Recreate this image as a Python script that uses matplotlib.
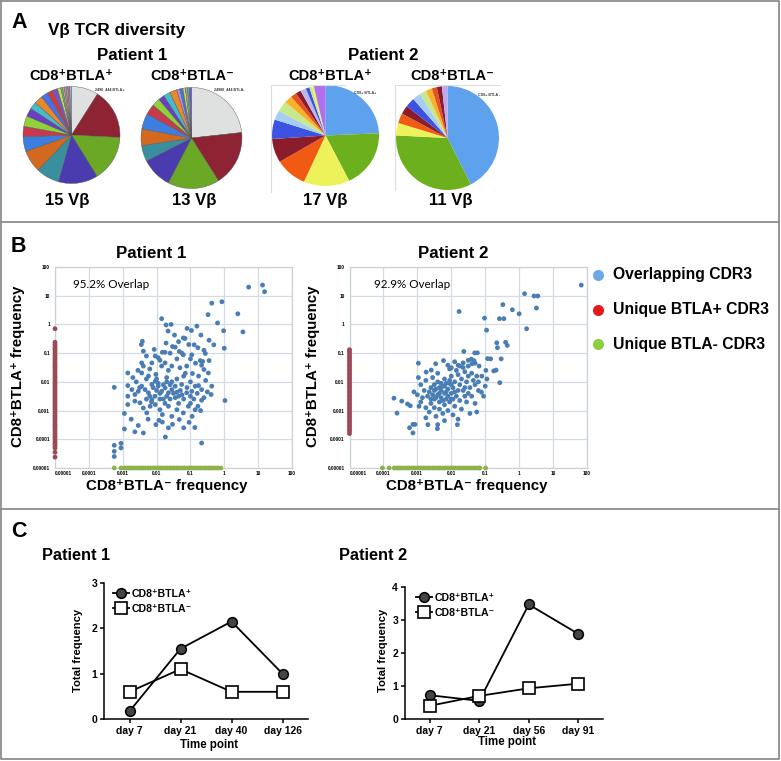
import numpy as np
import matplotlib
matplotlib.use('Agg')
import matplotlib.pyplot as plt
from matplotlib.lines import Line2D
from matplotlib.ticker import NullLocator

# ---------------- DATA ----------------
# Panel A: V-beta usage (percent of repertoire), clockwise from 12 o'clock
pie_p1_pos = [9.0, 16.8, 15.4, 13.2, 7.7, 7.4, 4.9, 3.5, 3.5, 2.8, 2.4, 2.8, 2.4, 1.8, 1.7, 1.1, 0.6, 0.6, 0.6, 0.6, 0.6, 0.6]
pie_p1_neg = [23.3, 17.8, 16.6, 9.9, 5.1, 5.3, 5.0, 3.4, 2.6, 1.9, 2.2, 2.3, 1.0, 1.0, 0.8, 0.7, 0.6, 0.65]
pie_p2_pos = [24.3, 18.4, 13.9, 9.7, 7.6, 6.2, 3.0, 3.4, 2.4, 1.8, 1.6, 1.7, 1.1, 0.8, 0.6, 3.5]
pie_p2_neg = [42.6, 33.3, 3.9, 3.1, 2.7, 3.0, 2.6, 2.1, 1.9, 1.6, 1.6, 1.75]
pie_counts = ['15 Vβ', '13 Vβ', '17 Vβ', '11 Vβ']
pie_tags = ['2498_444 BTLA+', '24988_444 BTLA-', 'CD8+ BTLA+', 'CD8+ BTLA -']

# Panel B: CDR3 clonotype frequencies, log10 (BTLA- freq, BTLA+ freq)
p1_overlap = [
    (1.13, 1.37), (1.19, 1.14), (0.72, 1.30), (-0.37, 0.74), (-0.07, 0.79), (0.40, 0.37), (-0.48, 0.34),
    (-0.20, 0.05), (-0.02, -0.22), (0.55, -0.26), (-1.85, 0.20), (-1.72, -0.02), (-1.57, 0.00), (-1.10, -0.14),
    (-0.97, -0.21), (-0.81, -0.06), (-0.69, -0.37), (-1.47, -0.37), (-1.66, -0.23), (-0.31, -0.71), (0.00, -0.83),
    (-1.21, -0.47), (-1.16, -0.49), (-2.42, -0.59), (-2.45, -0.70), (-1.72, -0.65), (-1.53, -0.77), (-1.45, -0.79),
    (-0.89, -0.71), (-0.78, -0.81), (-2.07, -0.87), (-1.83, -0.97), (-1.75, -0.97), (-2.39, -0.93), (-1.33, -0.94),
    (-1.21, -1.06), (-0.96, -1.06), (-0.56, -1.01), (-0.71, -1.26), (-0.64, -1.29), (-0.45, -1.26),
    (-2.04, -1.10), (-1.95, -1.16), (-2.14, -1.34), (-2.44, -1.34), (-2.39, -1.45),
    (-2.85, -1.69), (-2.44, -1.69), (-2.24, -1.80), (-2.02, -1.74), (-1.85, -1.45), (-1.75, -1.34), (-1.55, -1.45),
    (-1.31, -1.51), (-1.11, -1.45), (-0.94, -1.71), (-0.76, -1.80), (-0.47, -1.69), (-0.67, -1.42), (-0.60, -1.57),
    (-3.25, -2.19), (-2.85, -2.13), (-2.73, -2.27), (-2.64, -2.44), (-2.54, -2.33), (-2.44, -2.15), (-2.34, -2.27),
    (-2.24, -2.38), (-2.14, -2.09), (-2.04, -1.98), (-1.95, -2.15), (-1.85, -2.33), (-1.75, -2.21), (-1.65, -2.38),
    (-1.55, -2.27), (-1.45, -2.15), (-1.40, -2.36), (-1.35, -2.50), (-1.26, -2.09), (-1.11, -2.38), (-0.96, -2.33),
    (-0.86, -2.15), (-0.76, -2.13), (-0.67, -2.27), (-0.37, -2.15), (-0.39, -2.44), (0.02, -2.65), (-0.67, -2.64),
    (-2.85, -2.50), (-2.85, -2.79), (-2.64, -2.67), (-2.49, -2.73), (-2.39, -2.91), (-2.29, -3.08), (-2.19, -2.85),
    (-2.14, -2.62), (-2.04, -2.79), (-1.90, -2.97), (-1.83, -3.14), (-1.65, -2.85), (-1.55, -3.20), (-1.40, -2.97),
    (-1.21, -3.08), (-1.06, -2.85), (-0.86, -2.97), (-0.78, -2.85),
    (-2.95, -3.10), (-2.54, -3.52), (-2.39, -3.78), (-2.64, -3.74), (-2.95, -3.64), (-2.02, -3.49), (-1.93, -3.34),
    (-1.83, -3.40), (-1.53, -3.48), (-1.33, -3.31), (-1.04, -3.41), (-0.87, -3.59), (-1.74, -3.92), (-0.67, -4.13),
    (-3.25, -4.21), (-3.05, -4.14), (-3.25, -4.42), (-3.05, -4.30), (-3.25, -4.60),
    (-2.10, -2.20), (-2.00, -2.30), (-1.90, -2.40), (-1.80, -2.10), (-1.70, -2.50), (-1.60, -2.10), (-1.50, -2.40),
    (-2.20, -2.50), (-1.90, -2.60), (-1.70, -2.00), (-1.80, -2.60), (-1.95, -2.05), (-2.05, -2.50), (-1.60, -2.60),
    (-1.45, -2.55), (-1.30, -2.30), (-1.20, -2.60), (-1.00, -2.50), (-1.10, -2.20), (-0.90, -2.60), (-2.30, -2.60),
    (-2.50, -2.20), (-2.60, -2.00), (-2.30, -1.90), (-2.00, -1.90), (-1.70, -1.85), (-1.40, -1.90), (-1.20, -1.80),
    (-1.00, -2.00), (-0.80, -2.40), (-2.15, -2.70), (-1.75, -2.75), (-1.35, -2.75), (-1.55, -2.00), (-1.25, -2.45),
    (-0.55, -1.95), (-0.50, -2.35), (-0.60, -2.55), (-2.70, -1.85), (-2.55, -1.60), (-1.65, -1.60), (-1.40, -1.20),
    (-1.00, -1.20), (-0.85, -1.35), (-1.15, -1.70), (-1.25, -1.00), (-1.05, -0.70), (-0.60, -0.90), (-0.45, -0.55),
    (-1.35, -0.60), (-2.20, -1.55), (-1.90, -1.25), (-1.60, -1.00), (-2.30, -1.10), (-0.95, -3.20), (-1.20, -3.60),
    (-2.25, -3.30), (-1.65, -3.60), (-1.00, -2.75), (-0.70, -3.00), (-2.75, -3.30),
]
p1_unique_pos = [-0.15, -0.62, -0.70, -0.78, -0.85, -0.92, -1.0, -1.08, -1.15, -1.22, -1.3, -1.38, -1.45, -1.52,
                 -1.6, -1.68, -1.75, -1.83, -1.9, -1.98, -2.05, -2.12, -2.2, -2.28, -2.35, -2.42, -2.5, -2.58,
                 -2.65, -2.72, -2.8, -2.88, -2.95, -3.02, -3.1, -3.18, -3.25, -3.32, -3.4, -3.48, -3.55, -3.62,
                 -3.7, -3.78, -3.85, -3.92, -4.0, -4.08, -4.15, -4.22, -4.3, -4.45, -4.62]
p1_unique_neg = [-3.25, -3.05, -2.95, -2.88, -2.82, -2.75, -2.68, -2.6, -2.53, -2.46, -2.4, -2.33, -2.25, -2.18,
                 -2.1, -2.03, -1.96, -1.9, -1.83, -1.75, -1.68, -1.6, -1.53, -1.47, -1.4, -1.33, -1.25, -1.18,
                 -1.1, -1.03, -0.97, -0.9, -0.82, -0.75, -0.68, -0.6, -0.53, -0.46, -0.4, -0.33, -0.25, -0.18, -0.1]

p2_overlap = [
    (1.83, 1.37), (0.16, 1.07), (0.44, 0.99), (0.55, 0.99), (0.51, 0.57), (-0.48, 0.69), (-0.20, 0.51),
    (0.00, 0.37), (-1.77, 0.45), (-1.02, 0.22), (-0.58, 0.20), (-0.45, 0.20), (0.22, -0.15), (-0.96, -0.20),
    (-0.66, -0.64), (-0.40, -0.62), (-0.35, -0.73), (-0.64, -0.81), (-0.53, -1.20), (-0.93, -1.19), (-0.84, -1.20),
    (-1.31, -0.99), (-1.23, -0.99), (-1.63, -0.94), (-1.41, -1.21), (-1.33, -1.26), (-1.39, -1.37), (-1.18, -1.45),
    (-0.98, -1.60), (-0.75, -1.62), (-0.68, -1.59), (-0.57, -2.03), (-1.11, -2.36), (-2.97, -1.35), (-2.97, -1.85),
    (-3.69, -2.57), (-3.46, -2.67), (-3.60, -3.09), (-3.23, -3.60), (-3.13, -3.48), (-3.07, -3.48), (-3.13, -3.78),
    (-2.69, -3.49), (-2.40, -3.49), (-2.41, -3.63), (-1.82, -3.49), (-3.29, -2.77), (-3.21, -2.83), (-2.23, -1.26),
    (-2.10, -1.42), (-2.00, -1.51), (-2.46, -1.37), (-2.59, -1.59), (-2.74, -1.66), (-1.80, -1.42), (-1.65, -1.34),
    (-1.50, -1.45),
    (-2.90, -2.10), (-2.80, -2.30), (-2.70, -2.50), (-2.60, -2.20), (-2.50, -2.60), (-2.50, -2.30), (-2.40, -2.00),
    (-2.40, -2.45), (-2.35, -2.70), (-2.30, -2.30), (-2.30, -2.55), (-2.25, -2.15), (-2.20, -2.40), (-2.20, -1.90),
    (-2.15, -2.60), (-2.10, -2.25), (-2.05, -2.05), (-2.00, -2.40), (-2.00, -1.80), (-1.95, -2.20), (-1.90, -2.00),
    (-1.85, -2.50), (-1.80, -1.75), (-1.75, -2.10), (-1.70, -1.90), (-1.65, -2.30), (-1.60, -1.65), (-1.55, -2.00),
    (-1.50, -1.80), (-1.45, -2.20), (-1.40, -1.70), (-1.35, -1.95), (-1.30, -2.10), (-1.25, -1.80), (-1.20, -2.00),
    (-2.60, -2.75), (-2.50, -2.90), (-2.35, -2.95), (-2.20, -2.80), (-2.05, -2.70), (-1.90, -2.85), (-1.75, -2.65),
    (-2.75, -2.90), (-2.90, -2.70), (-3.00, -2.45), (-3.10, -2.35), (-2.95, -2.85), (-2.65, -3.05), (-2.45, -3.20),
    (-2.25, -3.10), (-2.10, -3.00), (-1.95, -3.15), (-1.70, -2.95), (-1.60, -2.50), (-1.50, -2.40), (-1.55, -2.70),
    (-1.40, -2.50), (-2.55, -2.45), (-2.45, -2.25), (-2.65, -2.35), (-2.30, -2.05), (-2.10, -2.50), (-1.95, -2.60),
    (-2.15, -2.05), (-2.35, -2.40), (-2.50, -2.10), (-2.00, -2.10), (-1.80, -2.30), (-2.25, -2.65), (-2.60, -2.60),
    (-1.85, -1.60), (-1.65, -1.50), (-2.75, -1.95), (-2.85, -2.55), (-1.30, -2.75), (-1.20, -2.30), (-1.00, -2.15),
    (-1.10, -1.80), (-0.95, -1.90), (-1.05, -2.50), (-2.40, -1.70), (-2.05, -1.55), (-1.75, -1.45), (-1.90, -1.30),
    (-1.50, -1.25), (-1.30, -1.35), (-2.55, -1.85), (-2.20, -3.35), (-1.80, -3.30), (-2.75, -3.25), (-1.45, -3.10),
    (-1.25, -3.05), (-1.60, -2.20), (-1.90, -2.35), (-2.05, -1.95), (-2.35, -2.20), (-2.20, -2.15), (-2.45, -2.55),
    (-2.15, -2.35), (-2.00, -2.60),
]
p2_unique_pos = [-0.88, -0.95, -1.02, -1.1, -1.17, -1.25, -1.32, -1.4, -1.47, -1.55, -1.62, -1.7, -1.77, -1.85,
                 -1.92, -2.0, -2.07, -2.15, -2.22, -2.3, -2.37, -2.45, -2.52, -2.6, -2.67, -2.75, -2.82, -2.9,
                 -2.97, -3.05, -3.12, -3.2, -3.27, -3.35, -3.42, -3.5, -3.57, -3.65, -3.72, -3.8]
p2_unique_neg = [-4.03, -3.83, -3.68, -3.6, -3.53, -3.46, -3.38, -3.3, -3.23, -3.15, -3.08, -3.0, -2.93, -2.85,
                 -2.78, -2.7, -2.63, -2.55, -2.48, -2.4, -2.33, -2.25, -2.18, -2.1, -2.03, -1.95, -1.88, -1.8,
                 -1.73, -1.65, -1.58, -1.5, -1.43, -1.35, -1.28, -1.2, -1.16, -0.99]
floor_freq = 1e-5
freq_ticks = [1e-5, 1e-4, 1e-3, 1e-2, 1e-1, 1, 10, 100]
freq_labels = ['0.00001', '0.0001', '0.001', '0.01', '0.1', '1', '10', '100']
overlap_labels = ['95.2% Overlap', '92.9% Overlap']
legend_b = ['Overlapping CDR3', 'Unique BTLA+ CDR3', 'Unique BTLA- CDR3']

# Panel C: total frequency over time
p1_days = ['day 7', 'day 21', 'day 40', 'day 126']
p1_btla_pos = [0.17, 1.55, 2.15, 1.0]
p1_btla_neg = [0.6, 1.1, 0.6, 0.6]
p2_days = ['day 7', 'day 21', 'day 56', 'day 91']
p2_btla_pos = [0.72, 0.55, 3.47, 2.58]
p2_btla_neg = [0.4, 0.7, 0.93, 1.07]

# ---------------- STYLE ----------------
pie1_colors = ['#dfe0e0', '#8e2433', '#6aa826', '#4a3cae', '#3a8f9f', '#d2691f', '#3c7fe0', '#c63a4e',
               '#8fd23a', '#6a40c0', '#45bccc', '#e8892a', '#4a6fe8', '#cf3b3b', '#7a52c8', '#c2e04a',
               '#45c0b0', '#f0a040', '#b090e0', '#a0a0a0', '#e07090', '#90b8e8']
pie2_colors = ['#dfe0e0', '#8e2433', '#6aa826', '#4a3cae', '#3a8f9f', '#d2691f', '#3c7fe0', '#c63a4e',
               '#8fd23a', '#6a40c0', '#45bccc', '#e8892a', '#b090e0', '#4a6fe8', '#c2e04a', '#a0a0a0',
               '#45c0b0', '#7a52c8']
pie3_colors = ['#5ea2ee', '#6cb01e', '#eef25a', '#f05a12', '#8a1c2c', '#3c52e0', '#a8cdf2', '#c8e88e',
               '#f8b228', '#e85020', '#8a1c2c', '#b8b8f0', '#3c52e0', '#c8e88e', '#eef25a', '#b070f0']
pie4_colors = ['#5ea2ee', '#6cb01e', '#eef25a', '#f05a12', '#8a1c2c', '#3c52e0', '#a8cdf2', '#c8e88e',
               '#f8b228', '#e85020', '#8a1c2c', '#c0a8f0']

W, H = 781, 761
FAM = ['Liberation Sans', 'DejaVu Sans']
plt.rcParams['font.family'] = FAM
plt.rcParams['font.weight'] = 'bold'
fig = plt.figure(figsize=(W / 100, H / 100), dpi=100)


def box(x0, y0, x1, y1):
    return [x0 / W, 1 - y1 / H, (x1 - x0) / W, (y1 - y0) / H]


def ftext(x, y, s, **kw):
    kw.setdefault('fontweight', 'bold')
    return fig.text(x / W, 1 - y / H, s, **kw)


def fline(xs, ys, **kw):
    fig.add_artist(Line2D([x / W for x in xs], [1 - y / H for y in ys], transform=fig.transFigure, **kw))


# panel frames
fc = '#8c8c8c'
fline([1, 779, 779, 1, 1], [1, 1, 759, 759, 1], color=fc, lw=1.3)
fline([1, 779], [222, 222], color=fc, lw=1.3)
fline([1, 779], [509, 509], color=fc, lw=1.3)

# ---------------- Panel A ----------------
ftext(11, 28.5, 'A', fontsize=15.5, va='baseline')
ftext(48, 35, 'Vβ TCR diversity', fontsize=12.3, va='baseline')
ftext(132, 59.5, 'Patient 1', fontsize=12.2, ha='center', va='baseline')
ftext(383, 59.5, 'Patient 2', fontsize=12.2, ha='center', va='baseline')
for xc, lab in zip([71, 192, 330, 452], ['CD8⁺BTLA⁺', 'CD8⁺BTLA⁻', 'CD8⁺BTLA⁺', 'CD8⁺BTLA⁻']):
    ftext(xc, 79.5, lab, fontsize=10.5, ha='center', va='baseline')

# faint image frames around patient 2 pies
fline([271, 271], [85, 192], color='#dcdcdc', lw=0.8)
fline([271, 345], [85, 85], color='#dcdcdc', lw=0.8)
fline([395, 395], [85, 190], color='#dcdcdc', lw=0.8)
fline([395, 500], [85, 85], color='#dcdcdc', lw=0.8)

pies = [
    (pie_p1_pos, pie1_colors, (23, 86.5, 120, 183.5), '#555555', 0.3),
    (pie_p1_neg, pie2_colors, (141, 87.5, 242, 188.5), '#555555', 0.3),
    (pie_p2_pos, pie3_colors, (272, 85, 379, 186), 'none', 0),
    (pie_p2_neg, pie4_colors, (396, 86, 499, 190), 'none', 0),
]
for vals, cols, b, ec, lw in pies:
    ax = fig.add_axes(box(*b))
    ax.pie(vals, colors=cols, startangle=90, counterclock=False,
           wedgeprops=dict(edgecolor=ec, linewidth=lw))
    ax.set_aspect('auto')
    ax.set_xlim(-1, 1)
    ax.set_ylim(-1, 1)
    ax.axis('off')

for (x, y), t in zip([(95, 89), (214, 89), (354, 93), (478, 95)], pie_tags):
    ftext(x, y, t, fontsize=2.6, va='center', color='#333333')
for xc, t in zip([67, 194, 325, 451], pie_counts):
    ftext(xc, 205, t, fontsize=12, ha='center', va='baseline')

# ---------------- Panel B ----------------
ftext(11, 252, 'B', fontsize=15.5, va='baseline')
ftext(151, 258.5, 'Patient 1', fontsize=12.2, ha='center', va='baseline')
ftext(453, 258.5, 'Patient 2', fontsize=12.2, ha='center', va='baseline')

blue, maroon, green = '#4a7db4', '#9c4a58', '#8db24c'
scat_boxes = [(55, 267, 292, 468), (349.5, 267, 587, 468)]
datasets = [(p1_overlap, p1_unique_pos, p1_unique_neg), (p2_overlap, p2_unique_pos, p2_unique_neg)]
for (b, (ov, upos, uneg), olab) in zip(scat_boxes, datasets, overlap_labels):
    ax = fig.add_axes(box(*b))
    ax.set_xscale('log')
    ax.set_yscale('log')
    ax.set_xlim(freq_ticks[0], freq_ticks[-1])
    ax.set_ylim(freq_ticks[0], freq_ticks[-1])
    ax.set_xticks(freq_ticks)
    ax.set_yticks(freq_ticks)
    ax.set_xticklabels(freq_labels)
    ax.set_yticklabels(freq_labels)
    ax.xaxis.set_minor_locator(NullLocator())
    ax.yaxis.set_minor_locator(NullLocator())
    ax.grid(True, color='#d4dbe2', lw=0.9)
    ax.set_axisbelow(True)
    for s in ax.spines.values():
        s.set_color('#c9d1d9')
        s.set_linewidth(0.9)
    ax.tick_params(length=0, labelsize=3.4)
    ax.tick_params(axis='x', pad=2.2)
    ax.tick_params(axis='y', pad=3.5)
    for lbl in ax.get_xticklabels() + ax.get_yticklabels():
        lbl.set_fontweight('bold')
    ax.get_xticklabels()[0].set_horizontalalignment('left')
    ov = np.array(ov)
    ax.scatter(10 ** ov[:, 0], 10 ** ov[:, 1], s=12, c=blue, edgecolors='none', zorder=3)
    upos = np.array(upos)
    ax.scatter(np.full(len(upos), floor_freq), 10 ** upos, s=12, c=maroon, edgecolors='none',
               zorder=3, clip_on=False)
    uneg = np.array(uneg)
    ax.scatter(10 ** uneg, np.full(len(uneg), floor_freq), s=12, c=green, edgecolors='none',
               zorder=3, clip_on=False)
    ax.text(0.075 if b[0] < 100 else 0.103, 0.912, olab, transform=ax.transAxes,
            fontsize=8.4, fontweight='normal', family=['Lato', 'DejaVu Sans'], va='center')

ftext(18, 366, 'CD8⁺BTLA⁺ frequency', fontsize=10.8, rotation=90, ha='center', va='center')
ftext(313, 366, 'CD8⁺BTLA⁺ frequency', fontsize=10.8, rotation=90, ha='center', va='center')
ftext(167, 486, 'CD8⁺BTLA⁻ frequency', fontsize=10.8, ha='center', va='center')
ftext(467, 486, 'CD8⁺BTLA⁻ frequency', fontsize=10.8, ha='center', va='center')

for yc, lab, col in zip([275, 310, 344], legend_b, ['#6ea9e6', '#e3191e', '#8ccf3e']):
    fig.add_artist(Line2D([598 / W], [1 - yc / H], marker='o', markersize=8, color=col,
                          markeredgecolor='none', transform=fig.transFigure))
    ftext(613, yc, lab, fontsize=11.3, va='center')

# ---------------- Panel C ----------------
ftext(11, 537, 'C', fontsize=15.5, va='baseline')
ftext(42, 560, 'Patient 1', fontsize=11.8, va='baseline')
ftext(339, 560, 'Patient 2', fontsize=11.8, va='baseline')

line_sets = [
    ((104, 583, 308, 719), p1_days, p1_btla_pos, p1_btla_neg, 3, (113, 589), (209, 745), 78),
    ((405, 587, 603, 719), p2_days, p2_btla_pos, p2_btla_neg, 4, (416, 593), (507, 742), 383),
]
for b, days, pos, neg, ymax, legxy, tpxy, ylx in line_sets:
    ax = fig.add_axes(box(*b))
    xs = np.arange(len(days))
    ax.plot(xs, pos, '-o', color='black', lw=1.3, mfc='#444444', mec='black', ms=7, mew=1.1,
            clip_on=False, zorder=3, label='CD8⁺BTLA⁺')
    ax.plot(xs, neg, '-s', color='black', lw=1.3, mfc='white', mec='black', ms=8, mew=1.2,
            clip_on=False, zorder=4, label='CD8⁺BTLA⁻')
    ax.set_xlim(-0.5, len(days) - 0.5)
    ax.set_ylim(0, ymax)
    ax.set_yticks(range(ymax + 1))
    ax.set_xticks(xs)
    ax.set_xticklabels(days)
    for s in ['top', 'right']:
        ax.spines[s].set_visible(False)
    for s in ['left', 'bottom']:
        ax.spines[s].set_linewidth(1.1)
    ax.tick_params(direction='out', length=3, width=1.1, labelsize=7.5, pad=2)
    for lbl in ax.get_xticklabels() + ax.get_yticklabels():
        lbl.set_fontweight('bold')
    ax.legend(loc='upper left', bbox_to_anchor=(legxy[0] / W, 1 - legxy[1] / H),
              bbox_transform=fig.transFigure, frameon=False, fontsize=7.6,
              handlelength=1.5, handletextpad=0.25, labelspacing=0.45, borderpad=0, borderaxespad=0,
              markerscale=1.0)
    ftext(tpxy[0], tpxy[1], 'Time point', fontsize=8.3, ha='center', va='center')
    ftext(ylx, 650, 'Total frequency', fontsize=8.1, rotation=90, ha='center', va='center')

fig.savefig('out.png', dpi=100)
